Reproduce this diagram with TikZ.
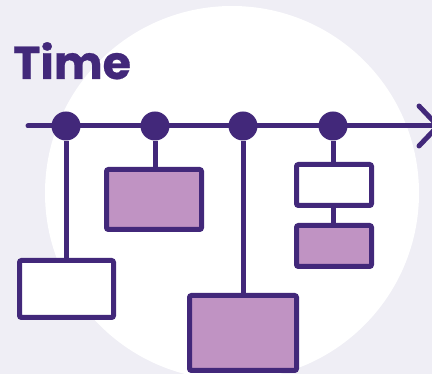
\documentclass[tikz,border=0pt]{standalone}
\usepackage{fontspec}
\newfontfamily\titlefont{Poppins}[FakeBold=0.6]
\definecolor{bgc}{HTML}{EFEEF5}
\definecolor{ink}{HTML}{42287A}
\definecolor{lilac}{HTML}{C093C3}
\tikzset{
  x=1pt, y=-1pt,
  stroke/.style={draw=ink, line width=5pt},
  event/.style={circle, fill=ink, minimum size=29pt, inner sep=0pt},
  card/.style={stroke, rectangle, rounded corners=2pt, inner sep=0pt},
  whitecard/.style={card, fill=white},
  lilaccard/.style={card, fill=lilac},
}
\begin{document}
\begin{tikzpicture}
\useasboundingbox (0,0) rectangle (432,374);
\clip (0,0) rectangle (432,374);
\fill[bgc] (0,0) rectangle (432,374);
\fill[white] (232,193) circle[radius=187];
\node[font=\titlefont\bfseries\fontsize{46}{51}\selectfont, text=ink, anchor=base west, inner sep=0pt] (title) at (13,79) {Time};
% timeline
\coordinate (tstart) at (28,126);
\coordinate (tend) at (438,126);
\coordinate (armtop) at (419,106);
\coordinate (armbot) at (419,146);
\draw[stroke, line cap=round] (tstart) -- (tend);
\draw[stroke, line cap=round, line join=miter] (armtop) -- (tend) -- (armbot);
% events
\node[event] (e1) at (66,126) {};
\node[event] (e2) at (155,126) {};
\node[event] (e3) at (243,126) {};
\node[event] (e4) at (333,126) {};
% cards
\node[whitecard, minimum width=94pt, minimum height=57pt] (a) at (66.5,289) {};
\node[lilaccard, minimum width=95pt, minimum height=60pt] (b) at (154,199.5) {};
\node[lilaccard, minimum width=107pt, minimum height=75pt] (c) at (243,333) {};
\node[whitecard, minimum width=75pt, minimum height=41pt] (d) at (334,185) {};
\node[lilaccard, minimum width=75pt, minimum height=41pt] (e) at (334,246) {};
% stems
\draw[stroke] (e1.south) -- (e1.south |- a.north);
\draw[stroke] (e2.south) -- (e2.south |- b.north);
\draw[stroke] (e3.south) -- (e3.south |- c.north);
\draw[stroke] (e4.south) -- (e4.south |- d.north);
\draw[stroke] (d.south -| e4.south) -- (e.north -| e4.south);
\end{tikzpicture}
\end{document}
